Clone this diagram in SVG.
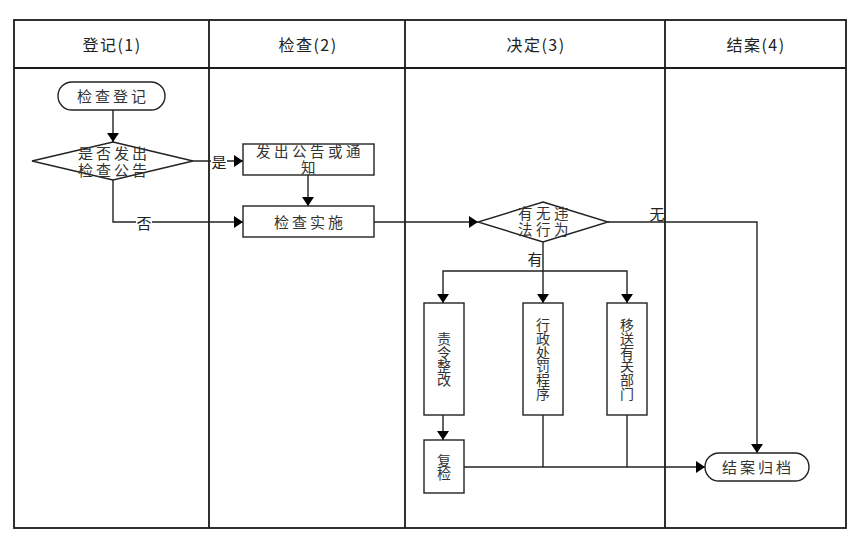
<svg xmlns="http://www.w3.org/2000/svg" width="862" height="544" viewBox="0 0 862 544">
  <style>
    .frame{fill:none;stroke:#1a1a1a;stroke-width:1.8}
    .shape{fill:#fff;stroke:#222;stroke-width:1.4}
    .line{fill:none;stroke:#222;stroke-width:1.4}
    .hdr{font-family:"Noto Sans CJK SC","Liberation Sans",sans-serif;font-size:16px;fill:#222;text-anchor:middle;dominant-baseline:central;letter-spacing:1.5px}
    .t{font-family:"Liberation Sans","Noto Sans CJK SC",sans-serif;font-size:15px;fill:#333;text-anchor:middle;dominant-baseline:central;letter-spacing:3px}
    .t2{font-family:"Liberation Sans","Noto Sans CJK SC",sans-serif;font-size:14.5px;fill:#333;text-anchor:middle;dominant-baseline:central;letter-spacing:3.5px}
    .v{font-family:"Noto Sans CJK SC","Liberation Sans",sans-serif;font-size:14px;fill:#333;text-anchor:middle;writing-mode:vertical-rl;letter-spacing:-0.3px}
    .lbl{font-family:"Noto Sans CJK SC","Liberation Sans",sans-serif;font-size:15px;fill:#222;text-anchor:middle;dominant-baseline:central}
  </style>
  <defs>
    <marker id="arr" markerUnits="userSpaceOnUse" markerWidth="10" markerHeight="12" refX="9" refY="6" orient="auto">
      <path d="M0,0 L9,6 L0,12 z" fill="#000"/>
    </marker>
  </defs>
  <rect x="0" y="0" width="862" height="544" fill="#fff"/>

  <g id="lanes">
    <rect class="frame" x="14" y="20" width="832" height="508"/>
    <line class="frame" x1="14" y1="68" x2="846" y2="68"/>
    <line class="frame" x1="209" y1="20" x2="209" y2="528"/>
    <line class="frame" x1="405" y1="20" x2="405" y2="528"/>
    <line class="frame" x1="665" y1="20" x2="665" y2="528"/>
    <text class="hdr" x="112" y="44">登记(1)</text>
    <text class="hdr" x="308" y="44">检查(2)</text>
    <text class="hdr" x="536" y="44">决定(3)</text>
    <text class="hdr" x="756" y="44">结案(4)</text>
  </g>

  <g id="connectors">
    <path class="line" d="M113,110 V142" marker-end="url(#arr)"/>
    <path class="line" d="M193,161 H243" marker-end="url(#arr)"/>
    <path class="line" d="M308,175 V206" marker-end="url(#arr)"/>
    <path class="line" d="M113,180 V222 H243" marker-end="url(#arr)"/>
    <path class="line" d="M374,222 H478" marker-end="url(#arr)"/>
    <path class="line" d="M608,222 H757 V453" marker-end="url(#arr)"/>
    <path class="line" d="M543,242 V303" marker-end="url(#arr)"/>
    <path class="line" d="M543,271 H443 V303" marker-end="url(#arr)"/>
    <path class="line" d="M543,271 H627 V303" marker-end="url(#arr)"/>
    <path class="line" d="M443,415 V440" marker-end="url(#arr)"/>
    <path class="line" d="M464,467 H705" marker-end="url(#arr)"/>
    <path class="line" d="M543,415 V467"/>
    <path class="line" d="M627,415 V467"/>
    <rect x="211" y="153" width="16" height="16" fill="#fff"/>
    <text class="lbl" x="219" y="161">是</text>
    <rect x="136" y="214" width="16" height="16" fill="#fff"/>
    <text class="lbl" x="144" y="222">否</text>
    <text class="lbl" x="535" y="258">有</text>
    <text class="lbl" x="657" y="213">无</text>
  </g>

  <g id="n_start">
    <rect class="shape" x="58" y="82" width="107" height="28" rx="14"/>
    <text class="t" x="113" y="96">检查登记</text>
  </g>

  <g id="n_decide1">
    <polygon class="shape" points="113,142 193,161 113,180 32,161"/>
    <text class="t"><tspan x="114" y="153">是否发出</tspan><tspan x="114" y="170">检查公告</tspan></text>
  </g>

  <g id="n_notice">
    <rect class="shape" x="243" y="144" width="131" height="31"/>
    <text class="t2"><tspan x="310" y="151.5">发出公告或通</tspan><tspan x="310" y="168">知</tspan></text>
  </g>

  <g id="n_inspect">
    <rect class="shape" x="243" y="206" width="131" height="31"/>
    <text class="t" x="310" y="222">检查实施</text>
  </g>

  <g id="n_decide2">
    <polygon class="shape" points="543,202 608,222 543,242 478,222"/>
    <text class="t2"><tspan x="545" y="213.5">有无违</tspan><tspan x="545" y="230">法行为</tspan></text>
  </g>

  <g id="n_rectify">
    <rect class="shape" x="424" y="303" width="40" height="112"/>
    <text class="v" x="444" y="359">责令整改</text>
  </g>

  <g id="n_penalty">
    <rect class="shape" x="523" y="303" width="40" height="112"/>
    <text class="v" x="543" y="359">行政处罚程序</text>
  </g>

  <g id="n_transfer">
    <rect class="shape" x="607" y="303" width="40" height="112"/>
    <text class="v" x="627" y="359">移送有关部门</text>
  </g>

  <g id="n_recheck">
    <rect class="shape" x="424" y="440" width="40" height="53"/>
    <text class="v" x="444" y="467">复检</text>
  </g>

  <g id="n_end">
    <rect class="shape" x="705" y="453" width="104" height="28" rx="14"/>
    <text class="t" x="758" y="467">结案归档</text>
  </g>
</svg>
